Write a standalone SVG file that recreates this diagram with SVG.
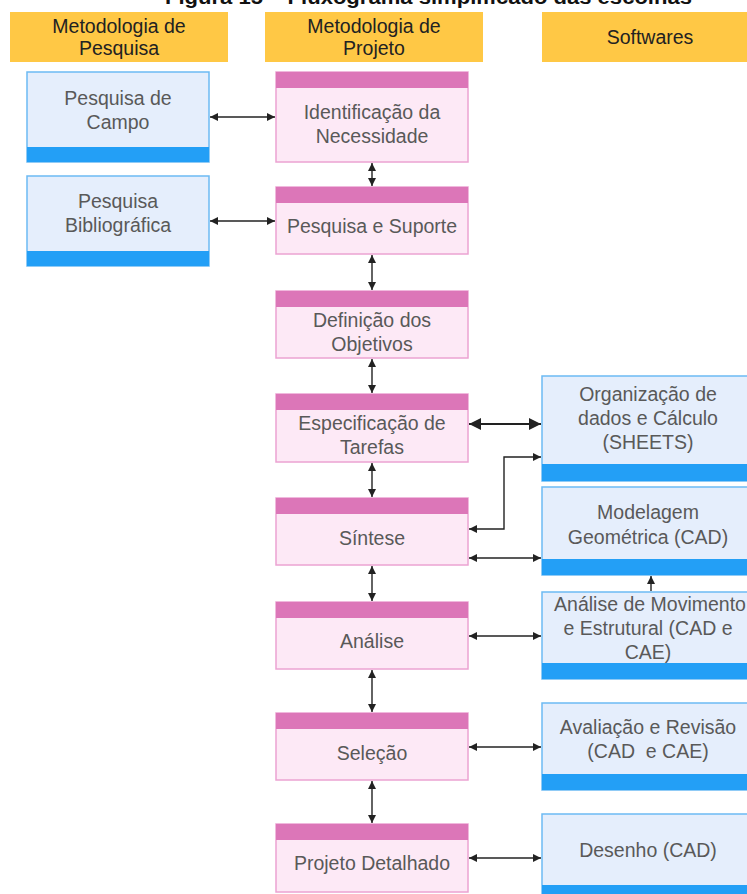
<svg xmlns="http://www.w3.org/2000/svg" width="747" height="894" viewBox="0 0 747 894">
  <style>
    text { font-family: "Liberation Sans", Arial, sans-serif; font-size: 19.5px; text-anchor: middle; fill: #595959; }
    .title { font-weight: bold; font-size: 21px; fill: #111; text-anchor: start; }
    .hdr rect { fill: #FFC845; }
    .hdr text { fill: #222; }
    .step .body { fill: #FDE9F6; stroke: #EBA3D2; stroke-width: 1.5; }
    .step .bar { fill: #DC76B8; }
    .tool .body { fill: #E5EEFC; stroke: #6CBAF3; stroke-width: 1.5; }
    .tool .bar { fill: #239FF6; }
    .conn path, .conn line { fill: none; stroke: #222; stroke-width: 1.4; }
    .conn .both { marker-start: url(#ah); marker-end: url(#ah); }
    .conn .end { marker-end: url(#ah); }
  </style>
  <defs>
    <marker id="ah" viewBox="0 0 10 10" refX="10" refY="5" markerWidth="6" markerHeight="6" markerUnits="strokeWidth" orient="auto-start-reverse">
      <path d="M0,0 L10,5 L0,10 z" fill="#222"/>
    </marker>
  </defs>

  <rect width="747" height="894" fill="#fff"/>

  <!-- caption, cut off by the top edge -->
  <text class="title" x="165" y="4" textLength="527" lengthAdjust="spacingAndGlyphs">Figura 15 – Fluxograma simplificado das escolhas</text>

  <!-- column headers -->
  <g id="hdr-pesquisa" class="hdr">
    <rect x="10" y="12" width="218" height="50"/>
    <text x="119" y="33">Metodologia de</text>
    <text x="119" y="55">Pesquisa</text>
  </g>
  <g id="hdr-projeto" class="hdr">
    <rect x="265" y="12" width="218" height="50"/>
    <text x="374" y="33">Metodologia de</text>
    <text x="374" y="55">Projeto</text>
  </g>
  <g id="hdr-softwares" class="hdr">
    <rect x="542" y="12" width="218" height="50"/>
    <text x="650" y="44">Softwares</text>
  </g>

  <!-- connectors -->
  <g id="connectors" class="conn">
    <line class="both" x1="210" y1="117" x2="275" y2="117"/>
    <line class="both" x1="210" y1="221" x2="275" y2="221"/>
    <line class="both" x1="372" y1="163" x2="372" y2="186"/>
    <line class="both" x1="372" y1="255" x2="372" y2="290"/>
    <line class="both" x1="372" y1="359" x2="372" y2="393"/>
    <line class="both" x1="372" y1="463" x2="372" y2="497"/>
    <line class="both" x1="372" y1="566" x2="372" y2="601"/>
    <line class="both" x1="372" y1="670" x2="372" y2="712"/>
    <line class="both" x1="372" y1="781" x2="372" y2="823"/>
    <line class="both" x1="469" y1="424" x2="541" y2="424" style="stroke-width:2"/>
    <path class="both" d="M469,529 H504 V457 H541"/>
    <line class="both" x1="469" y1="558" x2="541" y2="558"/>
    <line class="end" x1="651" y1="591" x2="651" y2="576"/>
    <line class="both" x1="469" y1="636" x2="541" y2="636"/>
    <line class="both" x1="469" y1="747" x2="541" y2="747"/>
    <line class="both" x1="469" y1="858" x2="541" y2="858"/>
  </g>

  <!-- research methods -->
  <g id="campo" class="tool">
    <rect class="body" x="27" y="72" width="182" height="90"/>
    <rect class="bar" x="27" y="147" width="182" height="15"/>
    <text x="118" y="105">Pesquisa de</text>
    <text x="118" y="129">Campo</text>
  </g>
  <g id="bibliografica" class="tool">
    <rect class="body" x="27" y="176" width="182" height="90"/>
    <rect class="bar" x="27" y="251" width="182" height="15"/>
    <text x="118" y="208">Pesquisa</text>
    <text x="118" y="232">Bibliográfica</text>
  </g>

  <!-- design method steps -->
  <g id="identificacao" class="step">
    <rect class="body" x="276" y="72" width="192" height="90"/>
    <rect class="bar" x="276" y="72" width="192" height="16"/>
    <text x="372" y="119">Identificação da</text>
    <text x="372" y="143">Necessidade</text>
  </g>
  <g id="suporte" class="step">
    <rect class="body" x="276" y="187" width="192" height="67"/>
    <rect class="bar" x="276" y="187" width="192" height="16"/>
    <text x="372" y="233">Pesquisa e Suporte</text>
  </g>
  <g id="objetivos" class="step">
    <rect class="body" x="276" y="291" width="192" height="67"/>
    <rect class="bar" x="276" y="291" width="192" height="16"/>
    <text x="372" y="327">Definição dos</text>
    <text x="372" y="351">Objetivos</text>
  </g>
  <g id="tarefas" class="step">
    <rect class="body" x="276" y="394" width="192" height="68"/>
    <rect class="bar" x="276" y="394" width="192" height="16"/>
    <text x="372" y="430">Especificação de</text>
    <text x="372" y="454">Tarefas</text>
  </g>
  <g id="sintese" class="step">
    <rect class="body" x="276" y="498" width="192" height="67"/>
    <rect class="bar" x="276" y="498" width="192" height="16"/>
    <text x="372" y="545">Síntese</text>
  </g>
  <g id="analise" class="step">
    <rect class="body" x="276" y="602" width="192" height="67"/>
    <rect class="bar" x="276" y="602" width="192" height="16"/>
    <text x="372" y="648">Análise</text>
  </g>
  <g id="selecao" class="step">
    <rect class="body" x="276" y="713" width="192" height="67"/>
    <rect class="bar" x="276" y="713" width="192" height="16"/>
    <text x="372" y="760">Seleção</text>
  </g>
  <g id="detalhado" class="step">
    <rect class="body" x="276" y="824" width="192" height="68"/>
    <rect class="bar" x="276" y="824" width="192" height="16"/>
    <text x="372" y="870">Projeto Detalhado</text>
  </g>

  <!-- software tools -->
  <g id="sheets" class="tool">
    <rect class="body" x="542" y="376" width="214" height="105"/>
    <rect class="bar" x="542" y="464" width="214" height="17"/>
    <text x="648" y="401">Organização de</text>
    <text x="648" y="425">dados e Cálculo</text>
    <text x="648" y="449">(SHEETS)</text>
  </g>
  <g id="modelagem" class="tool">
    <rect class="body" x="542" y="487" width="214" height="88"/>
    <rect class="bar" x="542" y="559" width="214" height="16"/>
    <text x="648" y="519">Modelagem</text>
    <text x="648" y="544">Geométrica (CAD)</text>
  </g>
  <g id="movimento" class="tool">
    <rect class="body" x="542" y="592" width="214" height="87"/>
    <rect class="bar" x="542" y="663" width="214" height="16"/>
    <text x="650" y="611">Análise de Movimento</text>
    <text x="648" y="635">e Estrutural (CAD e</text>
    <text x="648" y="659">CAE)</text>
  </g>
  <g id="avaliacao" class="tool">
    <rect class="body" x="542" y="703" width="214" height="87"/>
    <rect class="bar" x="542" y="774" width="214" height="16"/>
    <text x="648" y="734">Avaliação e Revisão</text>
    <text x="648" y="758" xml:space="preserve">(CAD  e CAE)</text>
  </g>
  <g id="desenho" class="tool">
    <rect class="body" x="542" y="814" width="214" height="87"/>
    <rect class="bar" x="542" y="885" width="214" height="16"/>
    <text x="648" y="857">Desenho (CAD)</text>
  </g>
</svg>
